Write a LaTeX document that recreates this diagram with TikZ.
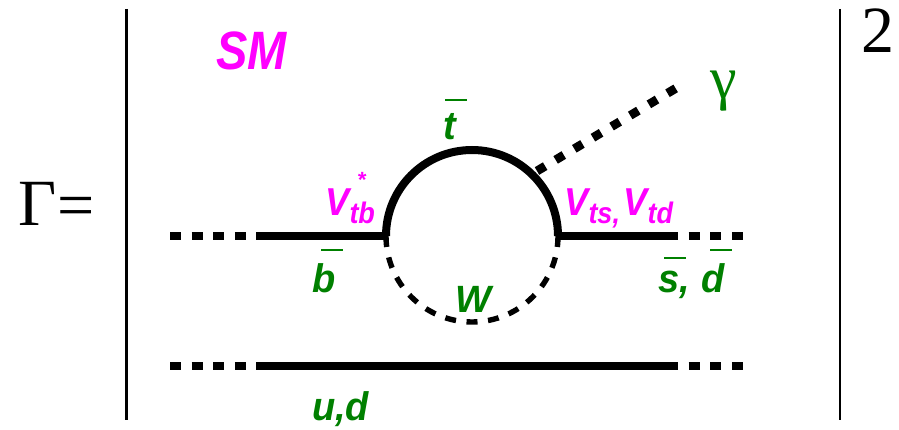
\documentclass[tikz,border=0pt]{standalone}
\usepackage{graphicx}
\usepackage{fontspec}
\setmainfont{Liberation Serif}
\newfontfamily\lab{Liberation Sans}[BoldItalicFont=* Bold Italic]
\newcommand{\gsz}[1]{\fontsize{#1}{#1}\selectfont}
\newcommand{\tall}[2]{\scalebox{1}[#1]{#2}}
\definecolor{lblgreen}{RGB}{0,128,0}
\definecolor{lblmag}{RGB}{255,0,255}
\tikzset{
 x=1pt,y=-1pt,
 txt/.style={inner sep=0pt,outer sep=0pt,anchor=base west},
 green lab/.style={txt,text=lblgreen,font=\lab\bfseries\itshape\gsz{38}},
 mag lab/.style={txt,text=lblmag,font=\lab\bfseries\itshape\gsz{36}},
 sub/.style={txt,text=lblmag,font=\lab\bfseries\itshape\gsz{27}},
 black lab/.style={txt,text=black},
 fermion/.style={line width=8.8pt},
 dots/.style={line width=8.8pt,dash pattern=on 11pt off 10.6pt},
 photon/.style={line width=8.8pt,dash pattern=on 9.5pt off 12.2pt},
 loopline/.style={line width=8pt},
 wline/.style={line width=5.4pt,dash pattern=on 11pt off 10.6pt},
 bar/.style={line width=2.8pt},
 over/.style={draw=lblgreen,line width=2pt}
}
\begin{document}
\begin{tikzpicture}
\useasboundingbox (0,0) rectangle (899,430);
% bars
\coordinate (bl1) at (126.5,9); \coordinate (bl2) at (126.5,420);
\coordinate (br1) at (840,9); \coordinate (br2) at (840,420);
\draw[bar] (bl1) -- (bl2);
\draw[bar] (br1) -- (br2);
% upper line
\coordinate (a0) at (170,236); \coordinate (a1) at (256,236);
\coordinate (v1) at (386,236); \coordinate (v2) at (558,236);
\coordinate (a2) at (667,236); \coordinate (a3) at (743,236);
\draw[dots] (a0) -- (a1);
\draw[fermion] (a1) -- (v1);
\draw[fermion] (v2) -- (a2);
\draw[dots] (a2) -- (a3);
% lower line
\coordinate (b0) at (170,366); \coordinate (b1) at (256,366);
\coordinate (b2) at (667,366); \coordinate (b3) at (743,366);
\draw[dots] (b0) -- (b1);
\draw[fermion] (b1) -- (b2);
\draw[dots] (b2) -- (b3);
% loop
\draw[loopline] (v1) arc[start angle=180,end angle=0,x radius=86pt,y radius=86pt];
\draw[wline] (v1) arc[start angle=180,end angle=360,x radius=86pt,y radius=86pt];
% photon
\coordinate (p0) at (537,171); \coordinate (p1) at (678,87);
\draw[photon] (p0) -- (p1);
% labels
\node[black lab,font=\gsz{66}] (gam) at (18,226) {Γ};
\node[black lab,font=\gsz{66}] (eq) at (57,228) {=};
\node[black lab,font=\gsz{66}] (two) at (861,53) {2};
\node[mag lab,font=\lab\bfseries\itshape\gsz{47}] (sm) at (216,70) {\tall{1.15}{SM}};
\node[txt,text=lblgreen,font=\gsz{60}] (gg) at (710,99) {γ};
\node[green lab] (t) at (443,140) {\tall{1.05}{t}};
\draw[over] (445,100.5) -- (467,100.5);
\node[mag lab] (vtb) at (325,216) {\tall{1.08}{V}};
\node[sub] (tb) at (349.5,224) {\tall{1.1}{tb}};
\node[mag lab,font=\lab\bfseries\itshape\gsz{22}] (st) at (357,188) {*};
\node[mag lab] (vts) at (564,216) {\tall{1.08}{V}};
\node[sub] (ts) at (588.5,224) {\tall{1.1}{ts,}};
\node[mag lab] (vtd) at (623,216) {\tall{1.08}{V}};
\node[sub] (td) at (647.5,224) {\tall{1.1}{td}};
\node[green lab] (b) at (312,292) {\tall{1.05}{b}};
\draw[over] (321,250) -- (343,250);
\node[green lab] (w) at (455,312) {W};
\node[green lab] (sd) at (658,292) {\tall{1.05}{s,}};
\draw[over] (664,258) -- (686,258);
\node[green lab] (d) at (701,292) {\tall{1.05}{d}};
\draw[over] (710,250) -- (732,250);
\node[green lab] (ud) at (312,420) {\tall{1.05}{u,d}};
\end{tikzpicture}
\end{document}
